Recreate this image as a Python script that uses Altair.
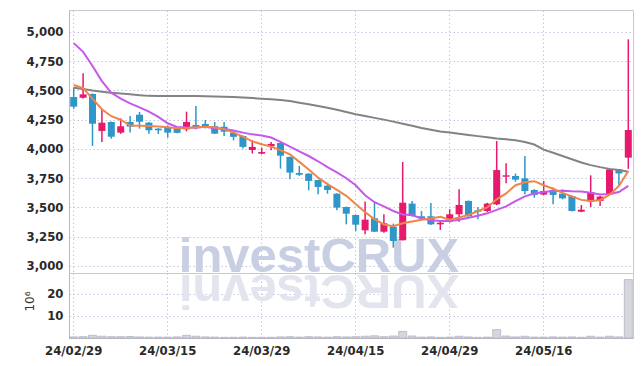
import altair as alt
import pandas as pd

# ---------------- data ----------------
dates = [
    "24/02/29", "24/03/04", "24/03/05", "24/03/06", "24/03/07", "24/03/08",
    "24/03/11", "24/03/12", "24/03/13", "24/03/14", "24/03/15",
    "24/03/18", "24/03/19", "24/03/20", "24/03/21", "24/03/22",
    "24/03/25", "24/03/26", "24/03/27", "24/03/28", "24/03/29",
    "24/04/01", "24/04/02", "24/04/03", "24/04/04", "24/04/05",
    "24/04/08", "24/04/09", "24/04/11", "24/04/12",
    "24/04/15", "24/04/16", "24/04/17", "24/04/18", "24/04/19",
    "24/04/22", "24/04/23", "24/04/24", "24/04/25", "24/04/26",
    "24/04/29", "24/04/30", "24/05/02", "24/05/03",
    "24/05/07", "24/05/08", "24/05/09", "24/05/10",
    "24/05/13", "24/05/14", "24/05/16", "24/05/17",
    "24/05/20", "24/05/21", "24/05/22", "24/05/23", "24/05/24",
    "24/05/27", "24/05/28", "24/05/29",
]
opens = [4444, 4438, 4470, 4154, 4231, 4140, 4231, 4293, 4225, 4174,
         4188, 4180, 4168, 4205, 4214, 4196, 4190, 4138, 4111, 3991,
         3960, 4023, 4051, 3932, 3795, 3789, 3735, 3686, 3618, 3504,
         3436, 3305, 3408, 3293, 3336, 3220, 3533, 3425, 3425, 3356,
         3379, 3442, 3556, 3476, 3470, 3527, 3763, 3769, 3749, 3650,
         3610, 3650, 3618, 3598, 3464, 3550, 3556, 3613, 3826, 3926]
highs = [4524, 4647, 4475, 4339, 4235, 4262, 4282, 4316, 4230, 4178,
         4202, 4185, 4319, 4368, 4248, 4231, 4231, 4150, 4115, 4076,
         4011, 4060, 4055, 3936, 3855, 3793, 3738, 3712, 3622, 3508,
         3440, 3551, 3551, 3442, 3362, 3889, 3556, 3470, 3539, 3380,
         3485, 3656, 3560, 3504, 3540, 4068, 3878, 3790, 3940, 3655,
         3727, 3670, 3656, 3602, 3521, 3775, 3600, 3830, 3830, 4937]
lows = [4344, 4432, 4026, 4060, 4088, 4130, 4140, 4174, 4131, 4128,
        4097, 4134, 4151, 4168, 4175, 4128, 4111, 4074, 4005, 3962,
        3955, 3989, 3832, 3741, 3770, 3647, 3613, 3618, 3476, 3356,
        3299, 3271, 3290, 3285, 3157, 3218, 3420, 3390, 3350, 3308,
        3372, 3379, 3420, 3399, 3462, 3520, 3707, 3720, 3613, 3584,
        3605, 3527, 3570, 3465, 3460, 3504, 3513, 3610, 3684, 3830]
closes = [4362, 4467, 4216, 4225, 4105, 4194, 4191, 4233, 4160, 4160,
          4140, 4138, 4231, 4182, 4182, 4131, 4148, 4104, 4018, 4018,
          3974, 4043, 3943, 3798, 3780, 3727, 3675, 3650, 3499, 3447,
          3353, 3396, 3293, 3365, 3214, 3541, 3427, 3408, 3356, 3370,
          3442, 3521, 3427, 3464, 3533, 3820, 3775, 3738, 3641, 3607,
          3641, 3607, 3578, 3470, 3481, 3632, 3593, 3826, 3791, 4162]
# volume in millions of shares
volumes = [0.5, 0.6, 1.2, 0.8, 0.6, 0.6, 0.7, 0.5, 0.4, 0.4,
           0.4, 0.5, 1.2, 0.8, 0.5, 0.4, 0.3, 0.3, 0.4, 0.3,
           0.3, 0.3, 0.5, 0.6, 0.4, 0.6, 0.5, 0.4, 0.6, 0.5,
           0.6, 0.8, 1.0, 0.6, 0.9, 3.0, 0.9, 0.4, 0.5, 0.3,
           0.4, 0.8, 0.5, 0.3, 0.4, 3.8, 0.9, 0.5, 0.8, 0.4,
           0.4, 0.5, 0.4, 0.5, 0.3, 0.8, 0.4, 0.8, 0.5, 26.5]
ma5 = [4547, 4520, 4430, 4340, 4280, 4250, 4200, 4198, 4197, 4192,
       4185, 4177, 4180, 4185, 4190, 4185, 4170, 4140, 4105, 4065,
       4040, 4020, 3990, 3955, 3890, 3825, 3755, 3700, 3650, 3600,
       3530, 3460, 3400, 3355, 3340, 3365, 3380, 3395, 3405, 3420,
       3395, 3415, 3435, 3470, 3500, 3570, 3620, 3690, 3715, 3725,
       3690, 3660, 3625, 3595, 3565, 3556, 3562, 3610, 3684, 3812]
ma20 = [4905, 4830, 4710, 4580, 4480, 4430, 4390, 4355, 4320, 4275,
        4220, 4188, 4183, 4182, 4190, 4178, 4170, 4158, 4140, 4125,
        4115, 4098, 4060, 4020, 3980, 3940, 3895, 3845, 3800, 3750,
        3690, 3605, 3545, 3510, 3470, 3440, 3435, 3405, 3390, 3385,
        3385, 3395, 3412, 3430, 3450, 3480, 3510, 3555, 3595, 3620,
        3633, 3641, 3642, 3638, 3636, 3625, 3612, 3615, 3632, 3684]
ma60 = [4524, 4512, 4500, 4490, 4481, 4474, 4467, 4460, 4454, 4452,
        4452, 4452, 4453, 4453, 4451, 4448, 4446, 4444, 4440, 4435,
        4430, 4425, 4418, 4410, 4396, 4382, 4368, 4352, 4335, 4316,
        4297, 4282, 4266, 4251, 4234, 4216, 4198, 4180, 4165, 4150,
        4140, 4130, 4120, 4110, 4100, 4090, 4083, 4074, 4060, 4038,
        3995, 3968, 3940, 3912, 3885, 3862, 3845, 3830, 3820, 3806]

price_ticks = [3000, 3250, 3500, 3750, 4000, 4250, 4500, 4750, 5000]
volume_ticks = [10, 20]
label_dates = dates[::10]

# ---------------- tables ----------------
df = pd.DataFrame({"date": dates, "open": opens, "high": highs, "low": lows,
                   "close": closes, "volume": volumes})
df["dir"] = ["up" if c >= o else "down" for o, c in zip(opens, closes)]

ma_df = pd.concat([
    pd.DataFrame({"date": dates, "value": vals, "series": name})
    for name, vals in [("MA60", ma60), ("MA20", ma20), ("MA5", ma5)]
], ignore_index=True)

# ---------------- styling ----------------
FONT = "'DejaVu Sans Condensed', 'Roboto Condensed', Roboto, sans-serif"
GRID = "#c3c7dc"
RED = "#e6196c"
BLUE = "#2e96c8"
W = 564

x_scale = alt.Scale(domain=dates, paddingInner=0, paddingOuter=0)
label_style = dict(labelFont=FONT, labelFontSize=13, labelFontWeight="bold",
                   labelColor="#2a2a2a")

price_y = alt.Scale(domain=[2940, 5188], nice=False, zero=False)
price_axis = alt.Axis(values=price_ticks, labelExpr="format(datum.value, ',')",
                      title=None, grid=True,
                      gridColor=GRID, gridDash=[1.5, 2.5], ticks=False, tickSize=0,
                      domain=True, domainColor="#b8b8c6", labelPadding=6,
                      minExtent=60, maxExtent=60, **label_style)
price_x_axis = alt.Axis(values=label_dates, labels=False, ticks=False, domain=False,
                        grid=True, gridColor=GRID, gridDash=[1.5, 2.5], title=None,
                        minExtent=0, maxExtent=0)

base = alt.Chart(df)
dir_color = alt.Color("dir:N", scale=alt.Scale(domain=["up", "down"], range=[RED, BLUE]),
                      legend=None)

watermark = alt.Chart(pd.DataFrame({"t": ["investCRUX"]})).mark_text(
    font="Liberation Sans", fontWeight="bold", fontSize=49, color="#c8cfe3",
    align="center", baseline="alphabetic"
).encode(text="t:N", x=alt.value(250), y=alt.value(262))

wick = base.mark_rule(strokeWidth=1.5).encode(
    x=alt.X("date:O", scale=x_scale, axis=price_x_axis),
    y=alt.Y("low:Q", scale=price_y, axis=price_axis),
    y2="high:Q",
    color=dir_color,
)
body = base.mark_bar(width=7).encode(
    x=alt.X("date:O", scale=x_scale, axis=price_x_axis),
    y=alt.Y("open:Q", scale=price_y, axis=price_axis),
    y2="close:Q",
    color=dir_color,
)
lines = alt.Chart(ma_df).mark_line(strokeWidth=2).encode(
    x=alt.X("date:O", scale=x_scale, axis=price_x_axis),
    y=alt.Y("value:Q", scale=price_y, axis=price_axis),
    color=alt.Color("series:N",
                    scale=alt.Scale(domain=["MA60", "MA20", "MA5"],
                                    range=["#838383", "#c658ec", "#f0854a"]),
                    legend=None),
    detail="series:N",
)

price = alt.layer(watermark, wick, body, lines).resolve_scale(color="independent").properties(
    width=W, height=263)

# reflection of the watermark (letters turned over), top of the volume panel
letters = list("investCRUX")
adv = [0.278, 0.611, 0.556, 0.556, 0.556, 0.333, 0.722, 0.722, 0.722, 0.667]
fs = 49
total = sum(adv) * fs
start = 250 - total / 2
centers, acc = [], start
for a in adv:
    centers.append(acc + a * fs / 2)
    acc += a * fs
refl_df = pd.DataFrame({"ch": letters, "px": centers})
reflection = alt.Chart(refl_df).mark_text(
    font="Liberation Sans", fontWeight="bold", fontSize=fs, color="#e2e5ee",
    align="center", baseline="alphabetic", angle=180
).encode(text="ch:N", x=alt.X("px:Q", scale=None, axis=None), y=alt.value(2))

vol_axis = alt.Axis(values=volume_ticks, title="10⁶", titleX=-33, titleY=28,
                    titleFont="DejaVu Sans", titleFontWeight="normal", titleFontSize=12,
                    titleColor="#333333", grid=True, gridColor=GRID, gridDash=[1.5, 2.5],
                    ticks=False, tickSize=0, domain=True, domainColor="#b8b8c6",
                    labelPadding=6, minExtent=60, maxExtent=60, **label_style)
vol_x_axis = alt.Axis(values=label_dates, labelAngle=0, title=None, grid=True,
                      gridColor=GRID, gridDash=[1.5, 2.5], ticks=False, tickSize=0,
                      domain=True, domainColor="#b8b8c6", labelPadding=6, **label_style)

vol_bars = base.mark_bar(width=8, color="#d6d6de", stroke="#b4b4c0", strokeWidth=0.8).encode(
    x=alt.X("date:O", scale=x_scale, axis=vol_x_axis),
    y=alt.Y("volume:Q", scale=alt.Scale(domain=[0, 29.5], nice=False), axis=vol_axis),
)

volume = alt.layer(reflection, vol_bars).properties(width=W, height=65)

chart = alt.vconcat(price, volume, spacing=0, bounds="flush").properties(
    padding={"left": 0, "top": 1, "right": 0, "bottom": 0},
    background="white",
).configure_view(stroke="#c8c8d2").configure_concat(spacing=0)

chart.save("out.html", embed_options={"renderer": "svg", "actions": False})
